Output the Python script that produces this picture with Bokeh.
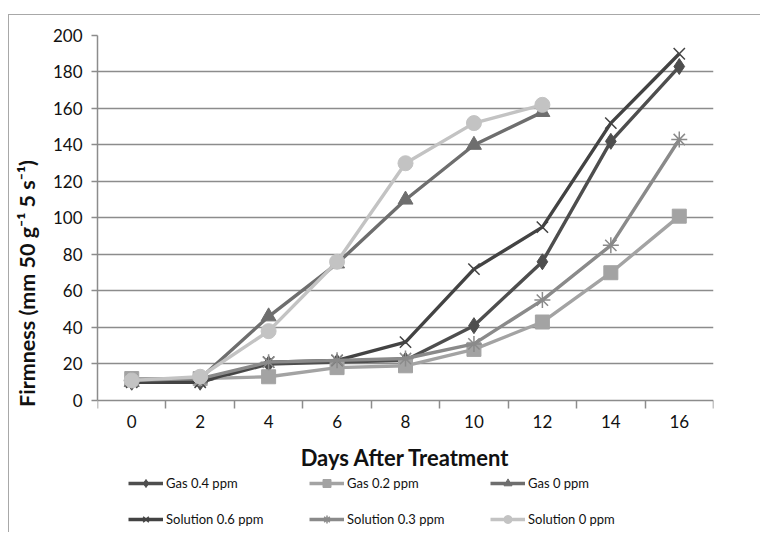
from bokeh.plotting import figure
from bokeh.models import FixedTicker, Legend, LegendItem, Range1d, LinearAxis
from bokeh.embed import file_html
from bokeh.resources import INLINE

days = [0, 2, 4, 6, 8, 10, 12, 14, 16]
days_short = [0, 2, 4, 6, 8, 10, 12]
gas_04 = [10, 10, 20, 21, 22, 41, 76, 142, 183]
gas_02 = [12, 12, 13, 18, 19, 28, 43, 70, 101]
gas_0 = [10, 12, 46, 75, 110, 140, 158]
sol_06 = [10, 10, 21, 22, 32, 72, 95, 152, 190]
sol_03 = [11, 12, 21, 22, 23, 31, 55, 85, 143]
sol_0 = [11, 13, 38, 76, 130, 152, 162]
y_ticks = [0, 20, 40, 60, 80, 100, 120, 140, 160, 180, 200]

series = [
    ("Gas 0.4 ppm", days, gas_04, "#4e4e4e", "diamond", 16),
    ("Gas 0.2 ppm", days, gas_02, "#a3a3a3", "square", 14),
    ("Gas 0 ppm", days_short, gas_0, "#6e6e6e", "triangle", 15),
    ("Solution 0.6 ppm", days, sol_06, "#434343", "x", 16),
    ("Solution 0.3 ppm", days, sol_03, "#8a8a8a", "asterisk", 16),
    ("Solution 0 ppm", days_short, sol_0, "#c3c3c3", "circle", 15),
]

FONT = "Lato"

# frame extends below y=0 to hold the x-axis labels and the legend
p = figure(width=752, height=518, output_backend="svg", toolbar_location=None,
           x_range=Range1d(-1, 17), y_range=Range1d(-71.8, 200),
           x_axis_location=None,
           min_border_left=88, min_border_top=20, min_border_right=48,
           min_border_bottom=2)
p.styles = {"margin-top": "14px", "margin-left": "8px",
            "border-top": "1px solid #a8a8a8",
            "border-left": "1px solid #a8a8a8"}
p.outline_line_color = None
p.background_fill_color = "white"

items = {}
for name, xs, ys, color, marker, size in series:
    r1 = p.line(xs, ys, line_color=color, line_width=3.4)
    r2 = p.scatter(xs, ys, marker=marker, size=size, fill_color=color,
                   line_color=color, line_width=1.5 if marker in ("x", "asterisk") else 1)
    items[name] = LegendItem(label=name, renderers=[r1, r2])

xaxis = LinearAxis(fixed_location=0)
xaxis.ticker = FixedTicker(ticks=days, minor_ticks=[-1, 1, 3, 5, 7, 9, 11, 13, 15, 17])
xaxis.major_tick_out = 0
xaxis.major_tick_in = 0
xaxis.minor_tick_out = 8
xaxis.minor_tick_in = 0
xaxis.minor_tick_line_color = "#8c8c8c"
xaxis.minor_tick_line_width = 1.5
xaxis.axis_line_color = "#8c8c8c"
xaxis.axis_line_width = 1.5
xaxis.major_label_standoff = 7
xaxis.axis_label = "Days After Treatment"
xaxis.axis_label_standoff = 12
p.add_layout(xaxis, "below")

p.yaxis.ticker = FixedTicker(ticks=y_ticks)
p.yaxis.bounds = (0, 200)
p.yaxis.major_tick_out = 6
p.yaxis.major_tick_in = 0
p.yaxis.minor_tick_out = 0
p.yaxis.minor_tick_in = 0
p.yaxis.major_tick_line_color = "#8c8c8c"
p.yaxis.major_tick_line_width = 1.5
p.yaxis.axis_line_color = "#8c8c8c"
p.yaxis.axis_line_width = 1.5
p.yaxis.major_label_standoff = 9
p.yaxis.axis_label = "Firmness (mm 50 g\u207b\u00b9 5 s\u207b\u00b9)"
p.yaxis.axis_label_standoff = 10

for ax in (xaxis, p.yaxis[0]):
    ax.major_label_text_font = FONT
    ax.major_label_text_font_size = "17px"
    ax.major_label_text_color = "#111111"
    ax.axis_label_text_font = FONT
    ax.axis_label_text_font_style = "bold"
    ax.axis_label_text_color = "#111111"
xaxis.axis_label_text_font_size = "22px"
p.yaxis.axis_label_text_font_size = "21.5px"

p.xgrid.grid_line_color = None
p.ygrid.ticker = FixedTicker(ticks=y_ticks[1:])
p.ygrid.grid_line_color = "#8c8c8c"
p.ygrid.grid_line_width = 1.5

# column-major fill: pairs per column give the row-wise order of the reference
legend_order = ["Gas 0.4 ppm", "Solution 0.6 ppm", "Gas 0.2 ppm",
                "Solution 0.3 ppm", "Gas 0 ppm", "Solution 0 ppm"]
legend = Legend(items=[items[n] for n in legend_order], location=(31, 2), ncols=3,
                margin=0, padding=2, spacing=16,
                glyph_width=35, glyph_height=20, label_height=20,
                label_width=127, label_standoff=3,
                label_text_font=FONT, label_text_font_size="13px",
                label_text_color="#111111",
                border_line_color=None, background_fill_alpha=0)
p.add_layout(legend, "center")

open("out.html", "w").write(file_html(p, INLINE))
